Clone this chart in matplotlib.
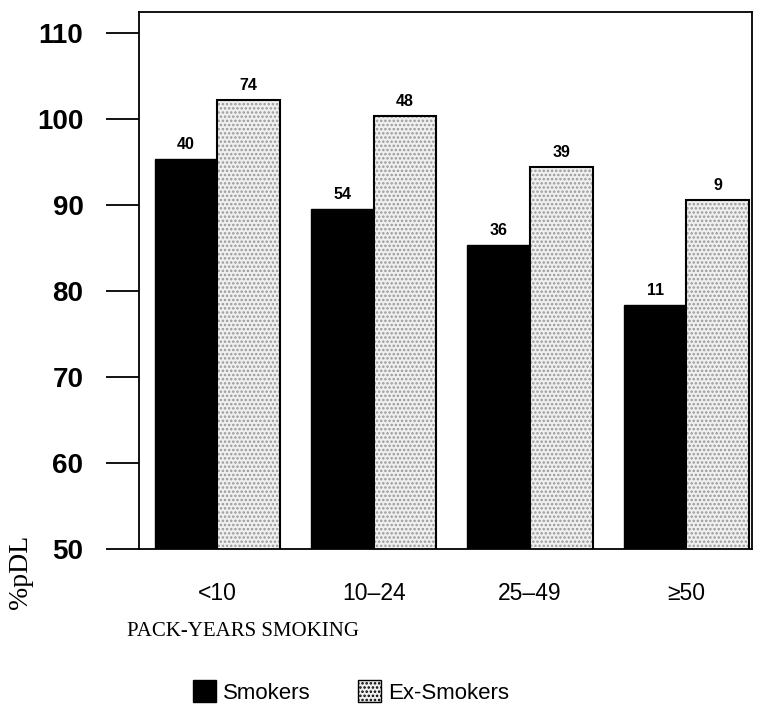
import numpy as np
import matplotlib
matplotlib.use("Agg")
import matplotlib.pyplot as plt
from matplotlib.patches import Patch

# values
categories = ["<10", "10\u201324", "25\u201349", "\u226550"]
smokers = [95.3, 89.5, 85.3, 78.4]
ex_smokers = [102.2, 100.3, 94.4, 90.5]
n_smokers = ["40", "54", "36", "11"]
n_ex = ["74", "48", "39", "9"]

plt.rcParams["font.family"] = ["Liberation Sans", "DejaVu Sans"]
plt.rcParams["hatch.linewidth"] = 1.2

fig = plt.figure(figsize=(7.61, 7.13), dpi=100)
ax = fig.add_axes([0.1827, 0.23, 0.8055, 0.7533])

x = np.arange(len(categories))
w = 0.4
stip = "#999999"

ax.bar(x - w / 2, smokers, w, color="black", edgecolor="black", linewidth=1)
ax.bar(x + w / 2, ex_smokers, w, color="#f0f0f0", edgecolor=stip, hatch="....", linewidth=0)
ax.bar(x + w / 2, ex_smokers, w, fill=False, edgecolor="black", linewidth=1.5)

for i in range(len(x)):
    ax.annotate(n_smokers[i], (x[i] - w / 2, smokers[i]), xytext=(0, 5),
                textcoords="offset points", ha="center", va="bottom",
                fontsize=11.5, fontweight="bold")
    ax.annotate(n_ex[i], (x[i] + w / 2, ex_smokers[i]), xytext=(0, 5),
                textcoords="offset points", ha="center", va="bottom",
                fontsize=11.5, fontweight="bold")

ax.set_xlim(-0.5, 3.42)
ax.set_ylim(50, 112.4)
ax.set_yticks([50, 60, 70, 80, 90, 100, 110])
ax.set_xticks(x)
ax.set_xticklabels(categories, fontsize=16.5)
ax.tick_params(axis="x", length=0, pad=24)
ax.tick_params(axis="y", length=24, width=1.3, pad=16, labelsize=20, direction="out")
for lab in ax.get_yticklabels():
    lab.set_fontweight("bold")
for s in ax.spines.values():
    s.set_linewidth(1.3)

fig.text(20 / 761, 1 - 572 / 713, "%pDL", rotation=90, ha="center", va="center",
         fontsize=20, family="Liberation Serif")
fig.text(127 / 761, 1 - 632 / 713, "PACK-YEARS SMOKING", ha="left", va="center",
         fontsize=15, family="Liberation Serif")

handles = [Patch(facecolor="black", edgecolor="black"),
           Patch(facecolor="#f0f0f0", edgecolor="black", hatch="....")]
fig.legend(handles, ["Smokers", "Ex-Smokers"], loc="center",
           bbox_to_anchor=(351 / 761, 1 - 692 / 713), ncol=2, frameon=False,
           fontsize=16, handlelength=1.05, handleheight=1.15, handletextpad=0.32,
           columnspacing=2.1)

plt.savefig("out.png", dpi=100)
